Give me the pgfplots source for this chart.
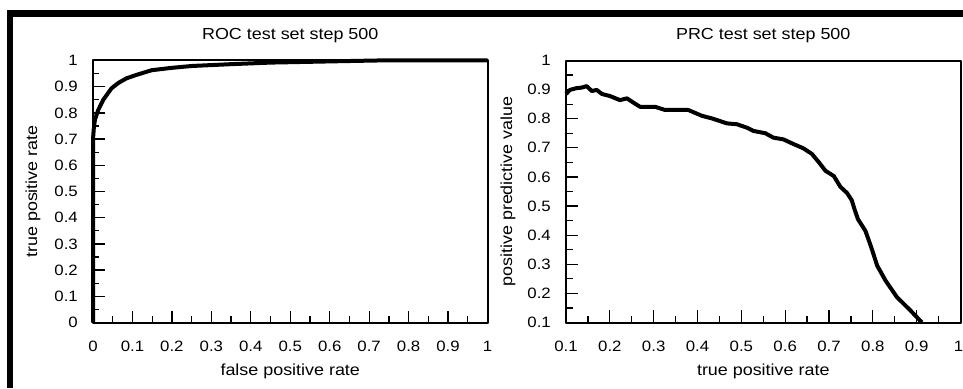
\documentclass[border=0pt]{standalone}
\usepackage{fontspec}
\setmainfont{Liberation Sans}[FakeStretch=1.12]
\usepackage{pgfplots}
\pgfplotsset{compat=1.18}
\pgfplotsset{
  rocstyle/.style={
    scale only axis,
    width=394.5pt, height=262pt,
    axis line style={line width=2pt},
    tick align=inside,
    xtick pos=bottom, ytick pos=left,
    major tick length=12pt, minor tick length=6.5pt,
    every tick/.style={black, line width=1.3pt},
    minor tick num=1,
    /pgf/number format/assume math mode=true,
    tick label style={font=\fontsize{15}{17}\selectfont, inner sep=0pt},
    yticklabel style={anchor=east, xshift=-15pt},
    xticklabel style={anchor=north, yshift=-18pt},
    label style={font=\fontsize{16}{19}\selectfont},
    every axis title/.style={font=\fontsize{16}{19}\selectfont, at={(axis description cs:0.5,1.097)}, anchor=center},
    xlabel style={at={(axis description cs:0.5,-0.185)}, anchor=center},
    clip=false,
    line join=round,
  }
}
\begin{document}
\begin{tikzpicture}
\useasboundingbox (0pt,0pt) rectangle (963pt,388pt);
\fill[black] (7pt,371pt) rectangle (963pt,378pt);
\fill[black] (7pt,0pt) rectangle (13pt,378pt);
\begin{axis}[rocstyle,
  at={(93pt,65.5pt)}, anchor=south west,
  xmin=0, xmax=1, ymin=0, ymax=1,
  xtick={0,0.1,...,1.01}, ytick={0,0.1,...,1.01},
  xticklabels={0,0.1,0.2,0.3,0.4,0.5,0.6,0.7,0.8,0.9,1},
  yticklabels={0,0.1,0.2,0.3,0.4,0.5,0.6,0.7,0.8,0.9,1},
  title={ROC test set step 500},
  xlabel={false positive rate},
  ylabel={true positive rate},
  ylabel style={at={(axis description cs:-0.152,0.5)}, anchor=center},
]
\addplot[black, line width=4pt, line join=round] coordinates {
(0,0) (0,0.70) (0.002,0.74) (0.005,0.775) (0.013,0.81) (0.026,0.85)
(0.047,0.894) (0.065,0.915) (0.085,0.932) (0.11,0.945) (0.149,0.963)
(0.2,0.972) (0.25,0.979) (0.35,0.986) (0.45,0.992) (0.55,0.995)
(0.65,0.998) (0.72,1.0) (1,1)
};
\end{axis}
\begin{axis}[rocstyle,
  at={(566pt,65.5pt)}, anchor=south west,
  xmin=0.1, xmax=1, ymin=0.1, ymax=1,
  xtick={0.1,0.2,...,1.01}, ytick={0.1,0.2,...,1.01},
  xticklabels={0.1,0.2,0.3,0.4,0.5,0.6,0.7,0.8,0.9,\hspace*{-4pt}1},
  yticklabels={0.1,0.2,0.3,0.4,0.5,0.6,0.7,0.8,0.9,1},
  title={PRC test set step 500},
  xlabel={true positive rate},
  ylabel={positive predictive value},
  ylabel style={at={(axis description cs:-0.147,0.5)}, anchor=center},
]
\addplot[black, line width=4pt, line join=round] coordinates {
(0.1,0.885) (0.109,0.899) (0.124,0.905) (0.136,0.907) (0.147,0.912)
(0.159,0.895) (0.17,0.899) (0.182,0.885) (0.2,0.878) (0.223,0.864)
(0.239,0.87) (0.254,0.855) (0.269,0.841) (0.303,0.841) (0.326,0.83)
(0.379,0.83) (0.41,0.81) (0.433,0.801) (0.467,0.784) (0.49,0.781)
(0.513,0.769) (0.528,0.758) (0.555,0.75) (0.573,0.735) (0.596,0.729)
(0.619,0.713) (0.642,0.698) (0.661,0.679) (0.676,0.652) (0.692,0.621)
(0.711,0.603) (0.726,0.566) (0.741,0.545) (0.752,0.52) (0.758,0.49)
(0.766,0.455) (0.783,0.415) (0.796,0.36) (0.81,0.295) (0.829,0.244)
(0.855,0.187) (0.886,0.141) (0.912,0.1)
};
\end{axis}
\end{tikzpicture}
\end{document}
